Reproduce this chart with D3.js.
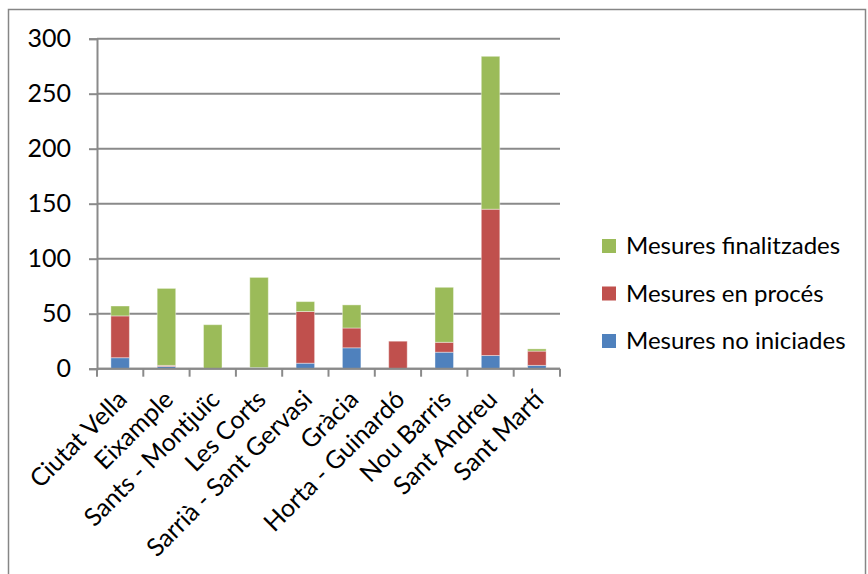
<!DOCTYPE html>
<html>
<head>
<meta charset="utf-8">
<script src="https://cdn.jsdelivr.net/npm/d3@7"></script>
<style>
  body { margin: 0; background: #fff; }
  text { font-family: Lato, "Open Sans", sans-serif; fill: #000; }
</style>
</head>
<body>
<script>
(function () {
  'use strict';

  // dades
  const districtes = ["Ciutat Vella", "Eixample", "Sants - Montjuïc", "Les Corts",
    "Sarrià - Sant Gervasi", "Gràcia", "Horta - Guinardó", "Nou Barris",
    "Sant Andreu", "Sant Martí"];
  const noIniciades = [10, 2, 0, 1, 5, 19, 0, 15, 12, 3];
  const enProces = [38, 1, 0, 0, 47, 18, 25, 9, 133, 13];
  const finalitzades = [9, 70, 40, 82, 9, 21, 0, 50, 139, 2];
  const series = ["Mesures no iniciades", "Mesures en procés", "Mesures finalitzades"];
  const colors = ["#4F81BD", "#C0504D", "#9BBB59"];
  const yTicks = [0, 50, 100, 150, 200, 250, 300];

  var W = 868, H = 574;
  var margin = {left: 97, top: 38.7, right: 308, bottom: 205.3};
  var width = W - margin.left - margin.right;
  var height = H - margin.top - margin.bottom;

  var svg = d3.select("body").append("svg")
    .attr("width", W).attr("height", H);

  // marc
  svg.append("rect")
    .attr("x", 8.5).attr("y", 9.5)
    .attr("width", 857).attr("height", 600)
    .attr("fill", "none").attr("stroke", "#868686").attr("stroke-width", 1.5);

  var g = svg.append("g")
    .attr("transform", "translate(" + margin.left + "," + margin.top + ")");

  var rows = districtes.map(function (d, i) {
    return {x: d, s0: noIniciades[i], s1: enProces[i], s2: finalitzades[i]};
  });
  var stack = d3.stack().keys(["s0", "s1", "s2"])(rows);

  var xScale = d3.scaleBand().domain(districtes).range([0, width]).paddingInner(0.6).paddingOuter(0.3);
  var yScale = d3.scaleLinear().domain([0, 300]).range([height, 0]);

  // graella
  g.append("g").selectAll("line").data(yTicks).enter().append("line")
    .attr("x1", 0).attr("x2", width)
    .attr("y1", function (d) { return yScale(d); })
    .attr("y2", function (d) { return yScale(d); })
    .attr("stroke", "#8a8a8a").attr("stroke-width", 2);

  // eix y
  var yAxis = d3.axisLeft(yScale).tickValues(yTicks).tickSize(8).tickPadding(18);
  var ya = g.append("g").call(yAxis);
  ya.select(".domain").attr("stroke", "#8a8a8a").attr("stroke-width", 2);
  ya.selectAll(".tick line").attr("stroke", "#8a8a8a").attr("stroke-width", 2);
  ya.selectAll("text").attr("font-size", "25px").attr("font-family", "Lato, sans-serif");

  // barres
  g.selectAll(".serie").data(stack).enter().append("g")
    .attr("fill", function (d, i) { return colors[i]; })
    .selectAll("rect").data(function (d) { return d; }).enter().append("rect")
    .attr("x", function (d) { return xScale(d.data.x); })
    .attr("y", function (d) { return yScale(d[1]); })
    .attr("width", xScale.bandwidth())
    .attr("height", function (d) { return yScale(d[0]) - yScale(d[1]); })
    .attr("stroke", "#ffffff").attr("stroke-opacity", 0.4).attr("stroke-width", 1);

  // eix x
  var step = xScale.step();
  var ax = g.append("g").attr("transform", "translate(0," + height + ")");
  ax.append("line").attr("x1", 0).attr("x2", width)
    .attr("stroke", "#8a8a8a").attr("stroke-width", 2);
  ax.selectAll(".tk").data(d3.range(districtes.length + 1)).enter().append("line")
    .attr("x1", function (i) { return i * step; })
    .attr("x2", function (i) { return i * step; })
    .attr("y1", 0).attr("y2", 8)
    .attr("stroke", "#8a8a8a").attr("stroke-width", 2);
  ax.selectAll("text").data(districtes).enter().append("text")
    .attr("transform", function (d) {
      return "translate(" + (xScale(d) + xScale.bandwidth() / 2 - 4) + ",20) rotate(-45)";
    })
    .attr("text-anchor", "end")
    .attr("dy", "0.7em")
    .attr("font-size", "25px")
    .text(function (d) { return d; });

  // llegenda
  var legend = svg.append("g").attr("transform", "translate(602,246)");
  var items = [2, 1, 0];
  legend.selectAll("rect").data(items).enter().append("rect")
    .attr("x", 0).attr("y", function (d, i) { return i * 47.5 - 7; })
    .attr("width", 14).attr("height", 14)
    .attr("fill", function (d) { return colors[d]; });
  legend.selectAll("text").data(items).enter().append("text")
    .attr("x", 24).attr("y", function (d, i) { return i * 47.5; })
    .attr("dy", "0.35em")
    .attr("font-size", "24px")
    .text(function (d) { return series[d]; });
})();
</script>
</body>
</html>
